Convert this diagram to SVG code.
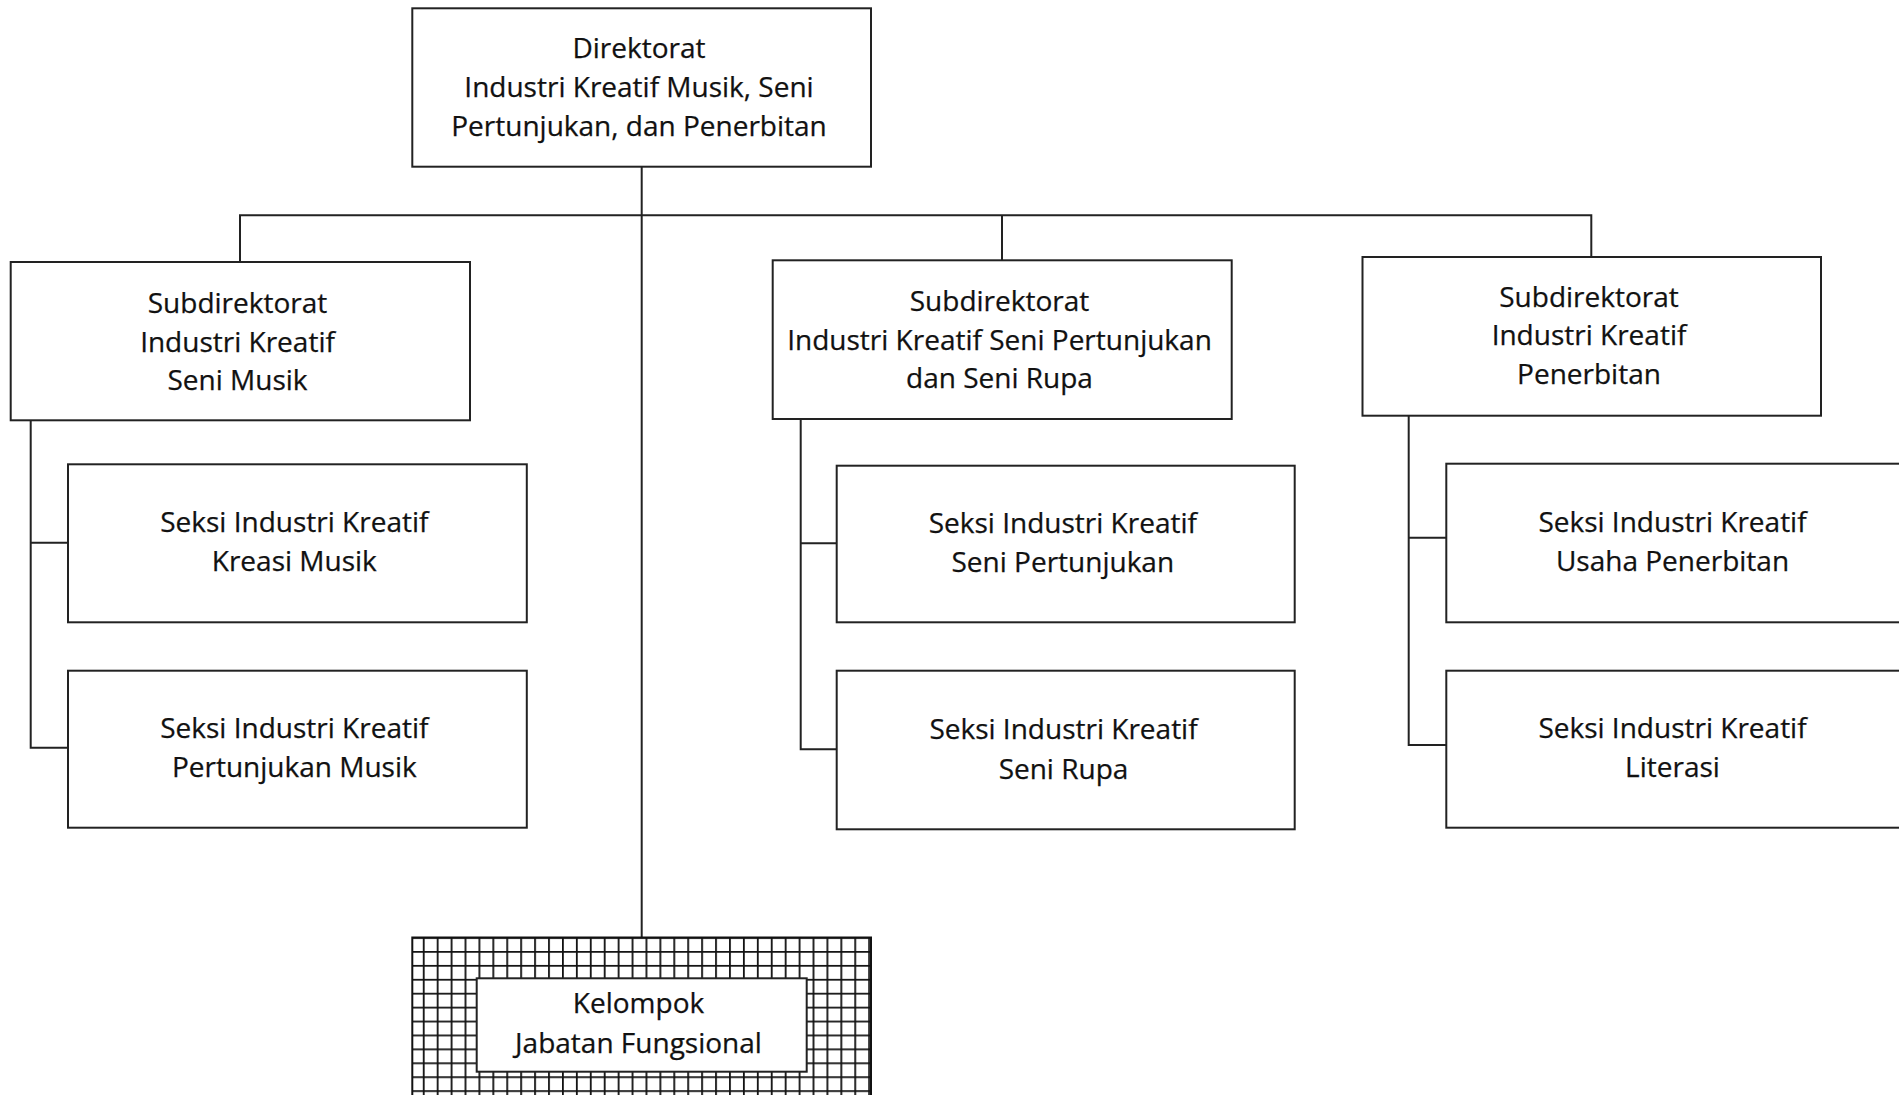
<svg xmlns="http://www.w3.org/2000/svg" width="1899" height="1095" viewBox="0 0 1899 1095">
<style>
.box{fill:#fff;stroke:#222;stroke-width:2}
.lbl{font-family:"Open Sans","Noto Sans","Liberation Sans",sans-serif;font-size:28px;fill:#111;stroke:#111;stroke-width:0.25;text-anchor:middle}
.con{fill:none;stroke:#222;stroke-width:2}
</style>
<defs>
<pattern id="grid" patternUnits="userSpaceOnUse" x="422.8" y="937.1" width="13.92" height="13.92">
<rect width="13.92" height="13.92" fill="#fff"/>
<path d="M0.9 0V13.92M0 0.9H13.92" stroke="#111" stroke-width="1.8" fill="none"/>
</pattern>
</defs>
<rect width="1899" height="1095" fill="#fff"/>
<g id="connectors">
<path class="con" d="M641.7 166.7V937.5"/>
<path class="con" d="M240 262V215.3H1591.3V257"/>
<path class="con" d="M1002 215.3V260.3"/>
<path class="con" d="M30.7 420.3V747.7H68M30.7 542.7H68"/>
<path class="con" d="M800.7 419V749.3H836.7M800.7 543.3H836.7"/>
<path class="con" d="M1408.7 415.7V745H1446.3M1408.7 537.7H1446.3"/>
</g>
<g id="direktorat">
<rect class="box" x="412.3" y="8.3" width="458.7" height="158.4"/>
<text class="lbl" x="639" y="58.3">Direktorat</text>
<text class="lbl" x="639" y="97.3">Industri Kreatif Musik, Seni</text>
<text class="lbl" x="639" y="135.5">Pertunjukan, dan Penerbitan</text>
</g>
<g id="subdit-musik">
<rect class="box" x="10.7" y="262" width="459.3" height="158.3"/>
<text class="lbl" x="237.5" y="312.7">Subdirektorat</text>
<text class="lbl" x="237.5" y="351.7">Industri Kreatif</text>
<text class="lbl" x="237.5" y="390">Seni Musik</text>
</g>
<g id="subdit-seni">
<rect class="box" x="772.7" y="260.3" width="459" height="158.7"/>
<text class="lbl" x="999.5" y="310.5">Subdirektorat</text>
<text class="lbl" x="999.5" y="349.5">Industri Kreatif Seni Pertunjukan</text>
<text class="lbl" x="999.5" y="388.3">dan Seni Rupa</text>
</g>
<g id="subdit-penerbitan">
<rect class="box" x="1362.5" y="257" width="458.5" height="158.7"/>
<text class="lbl" x="1589" y="306.5">Subdirektorat</text>
<text class="lbl" x="1589" y="345">Industri Kreatif</text>
<text class="lbl" x="1589" y="383.5">Penerbitan</text>
</g>
<g id="seksi-kreasi-musik">
<rect class="box" x="68" y="464.3" width="458.8" height="158"/>
<text class="lbl" x="294.3" y="531.7">Seksi Industri Kreatif</text>
<text class="lbl" x="294.3" y="570.7">Kreasi Musik</text>
</g>
<g id="seksi-pertunjukan-musik">
<rect class="box" x="68" y="670.7" width="458.8" height="157"/>
<text class="lbl" x="294.3" y="738.3">Seksi Industri Kreatif</text>
<text class="lbl" x="294.3" y="777">Pertunjukan Musik</text>
</g>
<g id="seksi-seni-pertunjukan">
<rect class="box" x="836.7" y="465.7" width="458" height="156.6"/>
<text class="lbl" x="1062.8" y="532.7">Seksi Industri Kreatif</text>
<text class="lbl" x="1062.8" y="572">Seni Pertunjukan</text>
</g>
<g id="seksi-seni-rupa">
<rect class="box" x="836.7" y="670.7" width="458" height="158.6"/>
<text class="lbl" x="1063.5" y="739.3">Seksi Industri Kreatif</text>
<text class="lbl" x="1063.5" y="778.5">Seni Rupa</text>
</g>
<g id="seksi-usaha-penerbitan">
<rect class="box" x="1446.3" y="463.7" width="460" height="158.6"/>
<text class="lbl" x="1672.5" y="531.7">Seksi Industri Kreatif</text>
<text class="lbl" x="1672.5" y="570.7">Usaha Penerbitan</text>
</g>
<g id="seksi-literasi">
<rect class="box" x="1446.3" y="670.7" width="460" height="157"/>
<text class="lbl" x="1672.5" y="738.3">Seksi Industri Kreatif</text>
<text class="lbl" x="1672.5" y="777">Literasi</text>
</g>
<g id="kelompok-jabatan-fungsional">
<rect x="412.3" y="937.5" width="458.7" height="200" fill="url(#grid)" stroke="#111" stroke-width="2"/>
<rect class="box" x="476.7" y="978.3" width="330" height="93.4"/>
<text class="lbl" x="638.5" y="1013.3">Kelompok</text>
<text class="lbl" x="638.5" y="1053">Jabatan Fungsional</text>
</g>
</svg>
